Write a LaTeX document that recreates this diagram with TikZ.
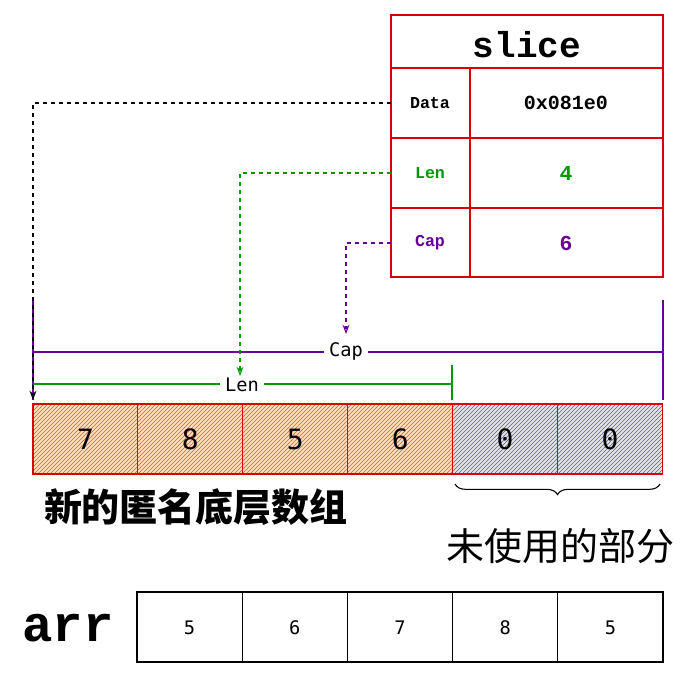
\documentclass[tikz,border=0pt]{standalone}
\usepackage{fontspec}
\setmonofont{Liberation Mono}
\newfontfamily\cjk{Noto Sans CJK SC}
\newfontfamily\dmono{DejaVu Sans Mono}
\usetikzlibrary{arrows.meta, positioning, patterns, decorations.pathreplacing}

\tikzset{
  tbl/.style={draw=red!85!black, line width=1pt},
  cellred/.style={draw=red!85!black, line width=0.8pt, pattern=north east lines, pattern color=orange!70!red},
  cellgray/.style={draw=red!85!black, line width=0.8pt, pattern=north east lines, pattern color=blue!30!gray},
  cellarr/.style={draw=black, line width=0.8pt},
  ptr/.style={dashed, line width=0.8pt, -{Stealth[open,length=7pt]}}
}

\begin{document}
\begin{tikzpicture}[x=0.75pt,y=0.75pt,yscale=-1,xscale=1]
\useasboundingbox (0,0) rectangle (697,684);

%slice table
\draw [tbl] (391,15) rectangle (663,277);
\draw [tbl] (391,68) -- (663,68) (391,138) -- (663,138) (391,208) -- (663,208) (470,68) -- (470,277);
\node (title) at (527,45) {\ttfamily\bfseries\fontsize{27}{30}\selectfont slice};
\node (dataK) at (430,103) {\ttfamily\bfseries\fontsize{12.5}{14}\selectfont Data};
\node (dataV) at (566,103) {\ttfamily\bfseries\fontsize{15}{17}\selectfont 0x081e0};
\node (lenK) at (430,173) {\ttfamily\bfseries\fontsize{12.5}{14}\selectfont\color{green!60!black} Len};
\node (lenV) at (566,173) {\ttfamily\bfseries\fontsize{16}{18}\selectfont\color{green!60!black} 4};
\node (capK) at (430,243) {\ttfamily\bfseries\fontsize{12.5}{14}\selectfont\color{violet!80!blue} Cap};
\node (capV) at (566,243) {\ttfamily\bfseries\fontsize{16}{18}\selectfont\color{violet!80!blue} 6};

%brackets
\draw [violet!80!blue, line width=1pt] (33,300) -- (33,400) (663,300) -- (663,400);
\node (capL) at (346,352) {\dmono\fontsize{14}{16}\selectfont Cap};
\draw [violet!80!blue, line width=1pt] (33,352) -- (capL.west |- 0,352) (capL.east |- 0,352) -- (663,352);
\node (lenL) at (242,385) {\dmono\fontsize{14}{16}\selectfont Len};
\draw [green!60!black, line width=1pt] (33,384) -- (lenL.west |- 0,384) (lenL.east |- 0,384) -- (452,384);
\draw [green!60!black, line width=1pt] (452,365) -- (452,400);

%pointers
\coordinate (dataE) at (33,400);
\coordinate (lenE) at (240,376);
\coordinate (capE) at (346,334);
\draw [ptr] (391,103) -| (dataE);
\draw [ptr, green!60!black] (391,173) -| (lenE);
\draw [ptr, violet!80!blue] (391,243) -| (capE);

%new array
\foreach \v [count=\i from 0] in {7,8,5,6} {
  \fill [orange!25] (33+\i*104.9,404) rectangle (137.9+\i*104.9,474);
  \draw [cellred] (33+\i*104.9,404) rectangle (137.9+\i*104.9,474);
  \node (n\i) at (85.5+\i*104.9,439) {\dmono\fontsize{21}{24}\selectfont \v};
}
\foreach \v [count=\i from 4] in {0,0} {
  \fill [gray!20] (33+\i*104.9,404) rectangle (137.9+\i*104.9,474);
  \draw [cellgray] (33+\i*104.9,404) rectangle (137.9+\i*104.9,474);
  \node (n\i) at (85.5+\i*104.9,439) {\dmono\fontsize{21}{24}\selectfont \v};
}
\node (newarr) at (196,507) {\cjk\bfseries\fontsize{28.5}{31}\selectfont 新的匿名底层数组};
\draw [decorate, decoration={brace, mirror, amplitude=8pt}, line width=0.8pt] (455,484) -- (660,484);
\node (unused) at (560,546) {\cjk\fontsize{28.5}{31}\selectfont 未使用的部分};

%arr
\node (arr) at (68,628) {\ttfamily\bfseries\fontsize{38}{40}\selectfont arr};
\foreach \v [count=\i from 0] in {5,6,7,8,5} {
  \draw [cellarr] (137+\i*105.2,592) rectangle (242.2+\i*105.2,662);
  \node (a\i) at (189.6+\i*105.2,628) {\dmono\fontsize{14}{16}\selectfont \v};
}
\end{tikzpicture}
\end{document}
